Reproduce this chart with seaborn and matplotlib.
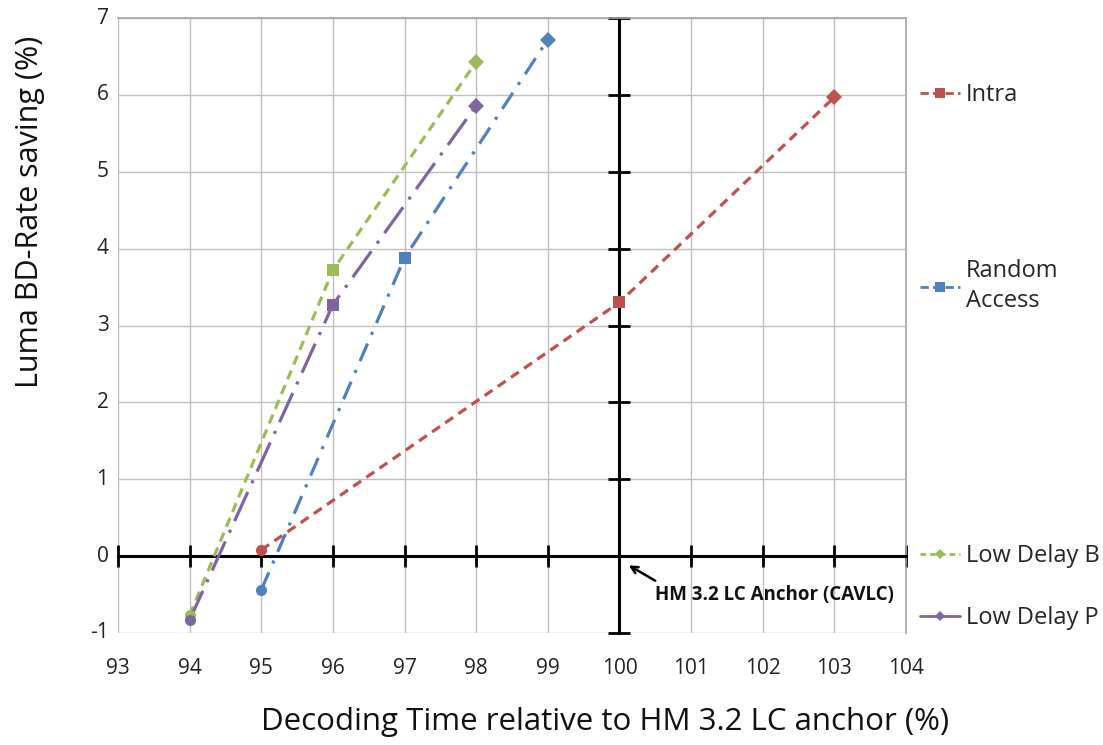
import matplotlib
matplotlib.use("Agg")
import matplotlib.pyplot as plt
import matplotlib.transforms as mtransforms
from matplotlib.lines import Line2D
import seaborn as sns
import pandas as pd

sns.set_theme(style="white")
plt.rcParams['font.family'] = ['Open Sans', 'DejaVu Sans']

# ---- data ----
series_names = ["Intra", "Random Access", "Low Delay B", "Low Delay P"]
legend_labels = ["Intra", "Random\nAccess", "Low Delay B", "Low Delay P"]
intra_x = [95, 100, 103]
intra_y = [0.08, 3.30, 5.97]
ra_x = [95, 97, 99]
ra_y = [-0.44, 3.88, 6.72]
ldb_x = [94, 96, 98]
ldb_y = [-0.77, 3.72, 6.43]
ldp_x = [94, 96, 98]
ldp_y = [-0.83, 3.27, 5.86]
x_ticks = list(range(93, 105))
y_ticks = list(range(-1, 8))
annotation_text = "HM 3.2 LC Anchor (CAVLC)"

colors = ["#C0504D", "#4F81BD", "#9BBB59", "#8064A2"]
styles = [(0, (3, 2)), (0, (6, 3, 1, 3)), (0, (3, 2)), (0, (10, 3, 1, 3))]
point_markers = ["o", "s", "D"]
legend_markers = ["s", "s", "D", "D"]
legend_ms = [7, 7, 5, 5]
legend_ls = [(0, (3, 1.5)), (0, (3, 1.5)), (0, (2, 1.5)), "-"]

xs = [intra_x, ra_x, ldb_x, ldp_x]
ys = [intra_y, ra_y, ldb_y, ldp_y]

fig = plt.figure(figsize=(11.03, 7.45), dpi=100)
W, H = 1103, 745
L, R, T, B = 118, 906, 18, 633
ax = fig.add_axes([L / W, 1 - B / H, (R - L) / W, (B - T) / H])

for name, x, y, c, ls in zip(series_names, xs, ys, colors, styles):
    df = pd.DataFrame({"x": x, "y": y})
    sns.lineplot(data=df, x="x", y="y", ax=ax, color=c, linewidth=2.3,
                 linestyle=ls, sort=False, zorder=3)
    for xi, yi, m in zip(x, y, point_markers):
        ax.plot([xi], [yi], marker=m, color=c, markersize=9 if m == "s" else 8,
                markeredgewidth=0, linestyle="none", zorder=4)

ax.set_xlim(93, 104)
ax.set_ylim(-1, 7)
ax.set_xticks(x_ticks)
ax.set_yticks(y_ticks)
ax.grid(True, color="#BFBFBF", linewidth=1)
ax.set_xlabel("")
ax.set_ylabel("")

# central axes
ax.spines["left"].set_position(("data", 100))
ax.spines["bottom"].set_position(("data", 0))
for s in ["left", "bottom"]:
    ax.spines[s].set_color("black")
    ax.spines[s].set_linewidth(2.2)
    ax.spines[s].set_zorder(2.5)
for s in ["top", "right"]:
    ax.spines[s].set_color("#A6A6A6")
    ax.spines[s].set_linewidth(1.2)
ax.tick_params(axis="both", which="both", direction="inout", length=16, width=2,
               color="black", labelleft=False, labelbottom=False,
               left=True, bottom=True)

# tick labels at the edges
tx = mtransforms.blended_transform_factory(ax.transData, ax.transAxes)
ty = mtransforms.blended_transform_factory(ax.transAxes, ax.transData)
for v in x_ticks:
    ax.text(v, -0.057, str(v), transform=tx, ha="center", va="center", fontsize=15,
            color="#222222")
for v in y_ticks:
    ax.text(-0.012, v, str(v), transform=ty, ha="right", va="center", fontsize=15,
            color="#222222")

ax.text(100.5, -0.5, annotation_text, fontsize=13.5, fontweight="bold",
        ha="left", va="center", color="#111111", zorder=5)
ax.annotate("", xy=(100.13, -0.12), xytext=(100.5, -0.32),
            arrowprops=dict(arrowstyle="->", color="black", lw=1.8,
                            shrinkA=0, shrinkB=0), zorder=5)

fig.text(605 / W, 1 - 722 / H, "Decoding Time relative to HM 3.2 LC anchor (%)",
         ha="center", va="center", fontsize=22.5, color="#111111")
fig.text(30 / W, 1 - 212 / H, "Luma BD-Rate saving (%)", ha="center", va="center",
         rotation=90, fontsize=22, color="#111111")

# legend entries, Excel-style spread
legend_y = [95, 286, 556, 618]
for lab, c, lm, ms, lls, ly in zip(legend_labels, colors, legend_markers, legend_ms,
                                    legend_ls, legend_y):
    h = Line2D([0], [0], color=c, linestyle=lls, linewidth=2, marker=lm,
               markersize=ms, markeredgewidth=0)
    leg = fig.legend(handles=[h], labels=[lab], loc="center left",
                     bbox_to_anchor=(920 / W, 1 - ly / H), frameon=False,
                     fontsize=17, handlelength=1.7, handletextpad=0.25,
                     borderaxespad=0, borderpad=0)
    for t in leg.get_texts():
        t.set_linespacing(1.35)

fig.savefig("out.png", dpi=100)
